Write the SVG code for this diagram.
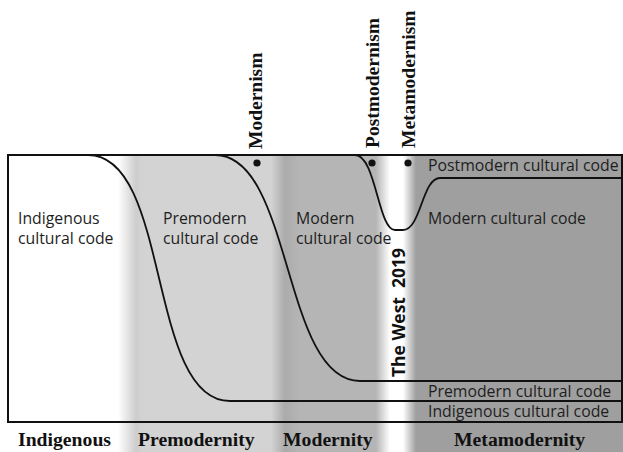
<svg xmlns="http://www.w3.org/2000/svg" width="623" height="452" viewBox="0 0 623 452">
  <style>
    .code { font-family: "Open Sans", "Noto Sans", "DejaVu Sans", sans-serif; font-size: 15.8px; fill: #1e1e1e; }
    .era { font-family: "Liberation Serif", "DejaVu Serif", serif; font-weight: bold; font-size: 19.7px; fill: #111; }
    .ism { font-family: "Liberation Serif", "DejaVu Serif", serif; font-weight: bold; font-size: 19.5px; fill: #111; }
    .west { font-family: "Open Sans", "DejaVu Sans", sans-serif; font-weight: bold; font-size: 17px; fill: #111; }
    .curve { fill: none; stroke: #111; stroke-width: 1.8; }
    .frame { fill: none; stroke: #111; stroke-width: 2; }
    .dot { fill: #111; }
  </style>
  <defs>
    <linearGradient id="bands" gradientUnits="userSpaceOnUse" x1="0" y1="0" x2="623" y2="0">
      <stop offset="0" stop-color="#ffffff"/>
      <stop offset="0.1894" stop-color="#ffffff"/>
      <stop offset="0.2183" stop-color="#cdcdcd"/>
      <stop offset="0.2280" stop-color="#d3d3d3"/>
      <stop offset="0.4350" stop-color="#d3d3d3"/>
      <stop offset="0.4575" stop-color="#ababab"/>
      <stop offset="0.4800" stop-color="#b5b5b5"/>
      <stop offset="0.6035" stop-color="#b5b5b5"/>
      <stop offset="0.6260" stop-color="#ffffff"/>
      <stop offset="0.6469" stop-color="#ffffff"/>
      <stop offset="0.6677" stop-color="#9f9f9f"/>
      <stop offset="1" stop-color="#9f9f9f"/>
    </linearGradient>
  </defs>

  <rect x="0" y="155" width="623" height="297" fill="url(#bands)"/>

  <g id="frame">
    <rect class="frame" x="8" y="155" width="614" height="267"/>
  </g>

  <g id="connectors">
    <path class="curve" d="M 88 155 C 171 155, 147 401, 230 401 L 622 401"/>
    <path class="curve" d="M 215 155 C 293 155, 282 381, 360 381 L 622 381"/>
    <path class="curve" d="M 355 155 C 376 155, 378 230, 395 230 L 403 230 C 421 230, 422 178, 440 178 L 622 178"/>
  </g>

  <g id="indigenous-code">
    <text class="code" x="18" y="224">Indigenous</text>
    <text class="code" x="18" y="244">cultural code</text>
  </g>
  <g id="premodern-code">
    <text class="code" x="163" y="224">Premodern</text>
    <text class="code" x="163" y="244">cultural code</text>
  </g>
  <g id="modern-code">
    <text class="code" x="296" y="224">Modern</text>
    <text class="code" x="296" y="244">cultural code</text>
  </g>
  <g id="postmodern-code-right">
    <text class="code" x="428" y="171">Postmodern cultural code</text>
  </g>
  <g id="modern-code-right">
    <text class="code" x="428" y="224">Modern cultural code</text>
  </g>
  <g id="premodern-code-right">
    <text class="code" x="428" y="397">Premodern cultural code</text>
  </g>
  <g id="indigenous-code-right">
    <text class="code" x="428" y="417">Indigenous cultural code</text>
  </g>

  <g id="modernism">
    <circle class="dot" cx="257" cy="163" r="3.6"/>
    <text class="ism" x="262" y="149" transform="rotate(-90 262 149)">Modernism</text>
  </g>
  <g id="postmodernism">
    <circle class="dot" cx="372" cy="163" r="3.6"/>
    <text class="ism" x="379" y="148" transform="rotate(-90 379 148)">Postmodernism</text>
  </g>
  <g id="metamodernism">
    <circle class="dot" cx="408" cy="163" r="3.6"/>
    <text class="ism" x="415" y="148" transform="rotate(-90 415 148)">Metamodernism</text>
  </g>
  <g id="the-west-2019">
    <text class="west" x="405" y="377" transform="rotate(-90 405 377)" textLength="129" lengthAdjust="spacingAndGlyphs" xml:space="preserve">The West  2019</text>
  </g>

  <g id="eras">
    <text class="era" x="18" y="446">Indigenous</text>
    <text class="era" x="138" y="446">Premodernity</text>
    <text class="era" x="283" y="446">Modernity</text>
    <text class="era" x="454" y="446">Metamodernity</text>
  </g>
</svg>
